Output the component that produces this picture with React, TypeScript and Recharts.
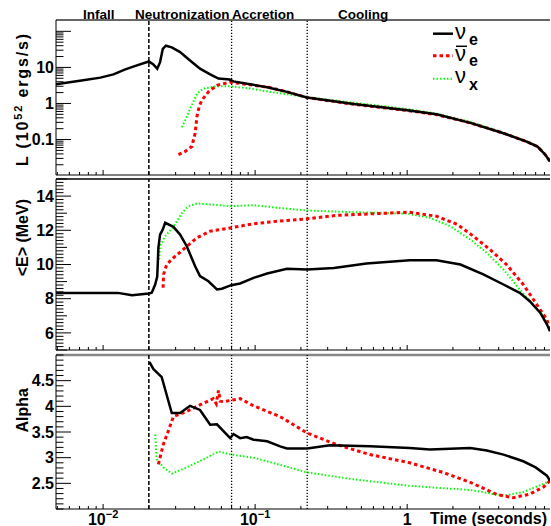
import React from "react";
import { LineChart, Line, XAxis, YAxis, ReferenceLine } from "recharts";

type Pt = { t: number; v: number };
const pts = (arr: number[][]): Pt[] => arr.map(([t, v]) => ({ t, v }));

// luminosity, 10^52 erg/s
const lumNuE = pts([
  [0.0049, 3.4], [0.0074, 4.4], [0.0096, 5.2], [0.0117, 6.4], [0.014, 8.8], [0.0167, 11.4],
  [0.02, 14.6], [0.0214, 12.1], [0.0227, 9.2], [0.0237, 14], [0.0247, 32.7], [0.0259, 40],
  [0.0283, 36], [0.0321, 26.5], [0.0373, 15.6], [0.0434, 9.2], [0.0506, 6.4], [0.0574, 4.9],
  [0.068, 4.6], [0.072, 4.1], [0.0927, 3.4], [0.12, 2.8], [0.162, 2.1], [0.219, 1.46],
  [0.444, 0.96], [1.0, 0.65], [1.56, 0.5], [2.6, 0.29], [4.3, 0.149], [6.1, 0.0875],
  [7.2, 0.064], [8.1, 0.038], [8.7, 0.0246],
]);
const lumNuEBar = pts([
  [0.0313, 0.038], [0.0345, 0.046], [0.0383, 0.064], [0.0403, 0.149], [0.0414, 0.43],
  [0.0428, 0.81], [0.0446, 1.23], [0.0493, 2.09], [0.0561, 3.19], [0.0685, 3.9], [0.0927, 3.3],
  [0.125, 2.76], [0.162, 2.1], [0.219, 1.46], [0.444, 0.95], [1.0, 0.64], [1.56, 0.49],
  [2.6, 0.29], [4.3, 0.15], [6.1, 0.088], [7.2, 0.064], [8.1, 0.038], [8.7, 0.025],
]);
const lumNuX = pts([
  [0.033, 0.218], [0.0355, 0.43], [0.0383, 0.9], [0.0414, 1.88], [0.0457, 2.59], [0.0561, 3.0],
  [0.0685, 3.0], [0.0927, 2.59], [0.125, 2.09], [0.219, 1.5], [0.444, 1.05], [1.0, 0.7],
  [1.56, 0.52], [2.6, 0.31], [4.3, 0.155], [6.1, 0.09], [7.2, 0.066], [8.1, 0.04], [8.7, 0.026],
]);

// mean energy, MeV
const eNuE = pts([
  [0.0049, 8.34], [0.0125, 8.34], [0.0155, 8.2], [0.02, 8.3], [0.0209, 8.35], [0.022, 8.83],
  [0.0227, 9.3], [0.0229, 10.1], [0.0231, 10.98], [0.0237, 11.75], [0.0247, 12.05],
  [0.0256, 12.44], [0.029, 12.2], [0.0321, 11.75], [0.0355, 11.07], [0.0403, 9.9],
  [0.0434, 9.32], [0.0493, 9.02], [0.0561, 8.54], [0.0604, 8.58], [0.0697, 8.79],
  [0.0797, 8.89], [0.0976, 9.22], [0.12, 9.47], [0.162, 9.75], [0.22, 9.71], [0.33, 9.8],
  [0.54, 10.06], [1.04, 10.25], [1.56, 10.25], [2.24, 10.0], [3.17, 9.42], [4.3, 8.83],
  [5.5, 8.34], [6.4, 7.85], [7.5, 7.18], [8.3, 6.5], [8.7, 6.1],
]);
const eNuEBar = pts([
  [0.0248, 8.64], [0.025, 9.42], [0.0262, 10.0], [0.029, 10.39], [0.0337, 10.88],
  [0.0414, 11.56], [0.0506, 11.95], [0.0697, 12.15], [0.0976, 12.38], [0.146, 12.55],
  [0.22, 12.67], [0.34, 12.87], [0.57, 12.96], [1.04, 13.06], [1.56, 12.82], [2.14, 12.34],
  [2.72, 11.66], [3.5, 10.88], [4.5, 10.0], [5.8, 8.83], [7.0, 7.76], [8.3, 6.78], [8.7, 6.2],
]);
const eNuX = pts([
  [0.0234, 10.29], [0.0237, 11.07], [0.0256, 11.66], [0.029, 12.2], [0.033, 13.02],
  [0.0365, 13.41], [0.0414, 13.57], [0.053, 13.5], [0.0697, 13.41], [0.0976, 13.47],
  [0.146, 13.3], [0.22, 13.16], [0.44, 13.06], [1.0, 12.98], [1.41, 12.73], [1.92, 12.24],
  [2.6, 11.46], [3.34, 10.68], [4.3, 9.71], [5.5, 8.54], [6.7, 7.66], [7.9, 6.98], [8.7, 6.1],
]);

// pinching parameter alpha
const aNuE = pts([
  [0.0202, 4.86], [0.0214, 4.73], [0.0243, 4.57], [0.0262, 4.22], [0.0283, 3.87],
  [0.0321, 3.87], [0.0373, 4.01], [0.0434, 3.93], [0.0506, 3.64], [0.0561, 3.65],
  [0.0685, 3.38], [0.072, 3.46], [0.0797, 3.38], [0.088, 3.4], [0.0976, 3.35], [0.12, 3.32],
  [0.146, 3.22], [0.162, 3.18], [0.22, 3.18], [0.31, 3.24], [0.57, 3.22], [1.04, 3.19],
  [1.41, 3.16], [2.6, 3.19], [3.34, 3.14], [4.3, 3.06], [5.8, 2.93], [7.0, 2.81],
  [8.3, 2.65], [8.7, 2.55],
]);
const aNuEBar = pts([
  [0.0231, 2.87], [0.0249, 3.26], [0.027, 3.54], [0.029, 3.8], [0.0355, 3.9], [0.0434, 4.03],
  [0.053, 4.15], [0.0555, 4.05], [0.0574, 4.31], [0.059, 4.1], [0.062, 4.09], [0.0797, 4.15],
  [0.0976, 4.01], [0.146, 3.8], [0.22, 3.48], [0.34, 3.26], [0.57, 3.06], [1.04, 2.9],
  [1.73, 2.71], [2.6, 2.52], [3.9, 2.28], [5.0, 2.22], [6.4, 2.29], [7.9, 2.43], [8.7, 2.55],
]);
const aNuX = pts([
  [0.022, 3.45], [0.0225, 2.97], [0.0249, 2.81], [0.0283, 2.69], [0.0355, 2.81], [0.048, 3.0],
  [0.0574, 3.12], [0.0697, 3.06], [0.0976, 3.0], [0.146, 2.86], [0.22, 2.71], [0.44, 2.58],
  [1.04, 2.45], [2.6, 2.37], [4.3, 2.26], [5.8, 2.33], [7.9, 2.49], [8.7, 2.55],
]);

// phase boundaries (s)
const phaseLines = [0.02, 0.07, 0.22];
const phaseNames = ["Infall", "Neutronization", "Accretion", "Cooling"];

const xDomain: [number, number] = [0.0049, 8.7];
const xTicks = [
  0.005, 0.006, 0.007, 0.008, 0.009, 0.01, 0.02, 0.03, 0.04, 0.05, 0.06, 0.07, 0.08, 0.09,
  0.1, 0.2, 0.3, 0.4, 0.5, 0.6, 0.7, 0.8, 0.9, 1, 2, 3, 4, 5, 6, 7, 8,
];
const xLabels: Record<string, [string, string]> = { "0.01": ["10", "\u22122"], "0.1": ["10", "\u22121"], "1": ["1", ""] };

const lumTicks = [
  0.02, 0.03, 0.04, 0.05, 0.06, 0.07, 0.08, 0.09, 0.1, 0.2, 0.3, 0.4, 0.5, 0.6, 0.7, 0.8, 0.9,
  1, 2, 3, 4, 5, 6, 7, 8, 9, 10, 20, 30, 40, 50, 60, 70, 80, 90, 100,
];
const lumLabels: Record<string, string> = { "0.1": "0.1", "1": "1", "10": "10", "100": "" };
const eTicks = Array.from({ length: 51 }, (_, i) => +(5 + i * 0.2).toFixed(1));
const eLabels = ["6", "8", "10", "12", "14"];
const aTicks = Array.from({ length: 31 }, (_, i) => +(2 + i * 0.1).toFixed(1));
const aLabels = ["2.5", "3", "3.5", "4", "4.5"];

const FONT = "'Liberation Sans', Arial, Helvetica, sans-serif";

const makeYTick = (kind: (v: number) => { len: number; label?: string }) => (props: any) => {
  const { x, y, payload } = props;
  const k = kind(payload.value);
  return (
    <g>
      <line x1={x} x2={x + k.len} y1={y} y2={y} stroke="#000" strokeWidth={1} />
      {k.label ? (
        <text x={x - 2} y={y} dy="0.36em" textAnchor="end" fontFamily={FONT} fontWeight="bold" fontSize={16} fill="#000">
          {k.label}
        </text>
      ) : null}
    </g>
  );
};

const lumKind = (v: number) => {
  const key = String(v);
  if (key in lumLabels) return { len: 15, label: lumLabels[key] };
  return { len: 7.5 };
};
const eKind = (v: number) => {
  const s = String(v);
  if (eLabels.includes(s)) return { len: 15, label: s };
  if (Number.isInteger(v)) return { len: 11 };
  return { len: 7.5 };
};
const aKind = (v: number) => {
  const s = String(v);
  if (aLabels.includes(s)) return { len: 15, label: s };
  return { len: 7.5 };
};

const makeXTick = (withLabels: boolean) => (props: any) => {
  const { x, y, payload } = props;
  const lab = xLabels[String(payload.value)];
  return (
    <g>
      <line x1={x} x2={x} y1={y} y2={y - (lab ? 5 : 3)} stroke="#000" strokeWidth={1} />
      {withLabels && lab ? (
        <text x={x} y={y + 15.5} textAnchor="middle" fontFamily={FONT} fontWeight="bold" fontSize={16} fill="#000">
          {lab[0]}
          {lab[1] ? (
            <tspan dy={-7} fontSize={11}>
              {lab[1]}
            </tspan>
          ) : null}
        </text>
      ) : null}
    </g>
  );
};

type PanelProps = {
  top: number;
  height: number;
  margin: { top: number; right: number; bottom: number; left: number };
  yScale: "log" | "linear";
  yDomain: [number, number];
  yTicks: number[];
  yKind: (v: number) => { len: number; label?: string };
  xLabelled: boolean;
  frameColor: string;
  frameWidth: number;
  series: [Pt[], Pt[], Pt[]];
};

function Panel(p: PanelProps) {
  return (
    <div style={{ position: "absolute", left: 0, top: p.top }}>
      <LineChart width={551} height={p.height} margin={p.margin}>
        <XAxis
          dataKey="t"
          type="number"
          scale="log"
          domain={xDomain}
          allowDataOverflow
          ticks={xTicks}
          interval={0}
          height={1}
          tickSize={0}
          tickMargin={0}
          tickLine={false}
          axisLine={{ stroke: "#000", strokeWidth: 1 }}
          tick={makeXTick(p.xLabelled)}
        />
        <YAxis
          dataKey="v"
          type="number"
          scale={p.yScale}
          domain={p.yDomain}
          allowDataOverflow
          ticks={p.yTicks}
          interval={0}
          width={56}
          tickSize={0}
          tickMargin={0}
          tickLine={false}
          axisLine={{ stroke: "#000", strokeWidth: 1 }}
          tick={makeYTick(p.yKind)}
        />
        <ReferenceLine y={p.yDomain[1]} stroke={p.frameColor} strokeWidth={p.frameWidth} />
        <ReferenceLine x={phaseLines[0]} stroke="#000" strokeWidth={1.5} strokeDasharray="4 2" />
        <ReferenceLine x={phaseLines[1]} stroke="#000" strokeWidth={1.3} strokeDasharray="1.2 1.8" />
        <ReferenceLine x={phaseLines[2]} stroke="#000" strokeWidth={1.3} strokeDasharray="1.2 1.8" />
        <Line data={p.series[2]} dataKey="v" stroke="#00ff00" strokeWidth={2} strokeDasharray="1.5 2" dot={false} isAnimationActive={false} />
        <Line data={p.series[1]} dataKey="v" stroke="#ff0000" strokeWidth={3} strokeDasharray="3.5 3" dot={false} isAnimationActive={false} />
        <Line data={p.series[0]} dataKey="v" stroke="#000" strokeWidth={2.5} dot={false} isAnimationActive={false} />
      </LineChart>
    </div>
  );
}

export default function App() {
  const phaseX = [83, 135, 232, 338];
  return (
    <div style={{ position: "absolute", left: 0, top: 0, width: 551, height: 526, background: "#fff", overflow: "hidden" }}>
      <Panel
        top={0}
        height={177}
        margin={{ top: 20, right: 1, bottom: 1, left: 0 }}
        yScale="log"
        yDomain={[0.0104, 206]}
        yTicks={lumTicks}
        yKind={lumKind}
        xLabelled={false}
        frameColor="#333"
        frameWidth={1.5}
        series={[lumNuE, lumNuEBar, lumNuX]}
      />
      <Panel
        top={177}
        height={175}
        margin={{ top: 2, right: 1, bottom: 1, left: 0 }}
        yScale="linear"
        yDomain={[5, 15]}
        yTicks={eTicks}
        yKind={eKind}
        xLabelled={false}
        frameColor="#000"
        frameWidth={1.5}
        series={[eNuE, eNuEBar, eNuX]}
      />
      <Panel
        top={352}
        height={174}
        margin={{ top: 3, right: 1, bottom: 16, left: 0 }}
        yScale="linear"
        yDomain={[2, 5]}
        yTicks={aTicks}
        yKind={aKind}
        xLabelled={true}
        frameColor="#888"
        frameWidth={2.5}
        series={[aNuE, aNuEBar, aNuX]}
      />
      <svg width={551} height={526} style={{ position: "absolute", left: 0, top: 0, pointerEvents: "none" }}>
        <g fontFamily={FONT} fontWeight="bold" fill="#000">
          {phaseNames.map((n, i) => (
            <text key={n} x={phaseX[i]} y={19} fontSize={13.5}>
              {n}
            </text>
          ))}
          <text x={547} y={524} fontSize={16} textAnchor="end">
            Time (seconds)
          </text>
          <text x={28} y={34} fontSize={16} textAnchor="end" textLength={132} lengthAdjust="spacing" transform="rotate(-90 28 34)">
            L (10<tspan dy={-6} fontSize={11}>52</tspan>
            <tspan dy={6}> ergs/s)</tspan>
          </text>
          <text x={28} y={199} fontSize={16} textAnchor="end" transform="rotate(-90 28 199)">
            {"<E> (MeV)"}
          </text>
          <text x={28} y={388} fontSize={16} textAnchor="end" transform="rotate(-90 28 388)">
            Alpha
          </text>
        </g>
        <g>
          <line x1={433} x2={453} y1={33.7} y2={33.7} stroke="#000" strokeWidth={2.5} />
          <line x1={433} x2={453} y1={55.7} y2={55.7} stroke="#ff0000" strokeWidth={3} strokeDasharray="3.5 3" />
          <line x1={433} x2={453} y1={78.7} y2={78.7} stroke="#00ff00" strokeWidth={2} strokeDasharray="1.5 2" />
          <line x1={456} x2={467} y1={46.3} y2={46.3} stroke="#000" strokeWidth={1.5} />
          <g fontFamily={FONT} fill="#000">
            <text x={455} y={38.7} fontSize={22}>ν</text>
            <text x={469} y={45} fontSize={16} fontWeight="bold">e</text>
            <text x={455} y={61.3} fontSize={22}>ν</text>
            <text x={469} y={66} fontSize={16} fontWeight="bold">e</text>
            <text x={455} y={83} fontSize={22}>ν</text>
            <text x={469} y={90} fontSize={16} fontWeight="bold">x</text>
          </g>
        </g>
      </svg>
    </div>
  );
}
